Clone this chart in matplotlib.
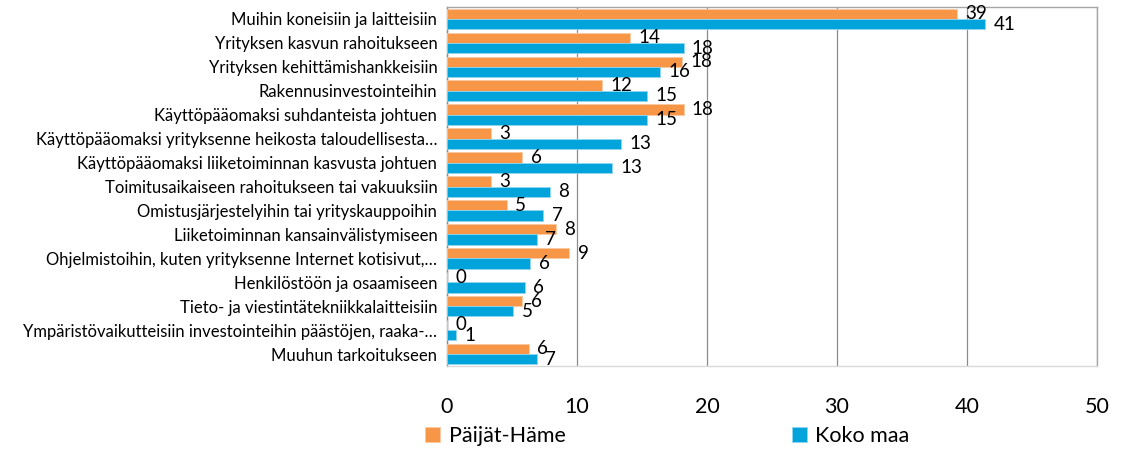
import matplotlib
matplotlib.use('Agg')
import matplotlib.pyplot as plt
import numpy as np

# data
categories = [
    'Muihin koneisiin ja laitteisiin',
    'Yrityksen kasvun rahoitukseen',
    'Yrityksen kehittämishankkeisiin',
    'Rakennusinvestointeihin',
    'Käyttöpääomaksi suhdanteista johtuen',
    'Käyttöpääomaksi yrityksenne heikosta taloudellisesta…',
    'Käyttöpääomaksi liiketoiminnan kasvusta johtuen',
    'Toimitusaikaiseen rahoitukseen tai vakuuksiin',
    'Omistusjärjestelyihin tai yrityskauppoihin',
    'Liiketoiminnan kansainvälistymiseen',
    'Ohjelmistoihin, kuten yrityksenne Internet kotisivut,…',
    'Henkilöstöön ja osaamiseen',
    'Tieto- ja viestintätekniikkalaitteisiin',
    'Ympäristövaikutteisiin investointeihin päästöjen, raaka-…',
    'Muuhun tarkoitukseen',
]
paijat_hame = [39.2, 14.1, 18.1, 11.9, 18.2, 3.4, 5.8, 3.4, 4.6, 8.4, 9.4, 0.0, 5.8, 0.0, 6.3]
koko_maa = [41.4, 18.2, 16.4, 15.4, 15.4, 13.4, 12.7, 7.9, 7.4, 6.9, 6.4, 6.0, 5.1, 0.7, 6.9]
series_names = ['Päijät-Häme', 'Koko maa']
x_ticks = [0, 10, 20, 30, 40, 50]

plt.rcParams['font.family'] = ['Lato', 'DejaVu Sans']

orange = '#F79646'
blue = '#00A3DA'

fig = plt.figure(figsize=(11.27, 4.5), dpi=100)
ax = fig.add_axes([447 / 1127, 1 - 366 / 450, 650 / 1127, 359 / 450])

y = np.arange(len(categories))
h = 0.43
b1 = ax.barh(y - h / 2, paijat_hame, height=h, color=orange, edgecolor='#fbc9a3',
             linewidth=0.6, label=series_names[0], zorder=3)
b2 = ax.barh(y + h / 2, koko_maa, height=h, color=blue, edgecolor='#8fd6ef',
             linewidth=0.6, label=series_names[1], zorder=3)

for bars, vals in ((b1, paijat_hame), (b2, koko_maa)):
    for bar, v in zip(bars, vals):
        ax.annotate(f'{v:.0f}', (v, bar.get_y() + bar.get_height() / 2),
                    xytext=(6, 0), textcoords='offset points',
                    ha='left', va='center', fontsize=13.5, color='black', zorder=4)

ax.set_xlim(0, 50)
ax.set_ylim(len(categories) - 0.5, -0.5)
ax.set_xticks(x_ticks)
ax.set_xticklabels([str(t) for t in x_ticks], fontsize=15.5)
ax.set_yticks(y)
ax.set_yticklabels(categories, fontsize=12)
ax.tick_params(axis='x', length=0, pad=22)
ax.tick_params(axis='y', length=0, pad=7)

ax.grid(axis='x', color='#8c8c8c', linewidth=0.9, zorder=0)
ax.spines['left'].set_color('#868686')
ax.spines['top'].set_color('#a6a6a6')
ax.spines['right'].set_color('#a6a6a6')
ax.spines['bottom'].set_color('#d9d9d9')
for s in ax.spines.values():
    s.set_linewidth(1.0)

fig.legend(handles=[b1, b2], labels=series_names, loc='center',
           bbox_to_anchor=(0.592, 0.031), ncol=2, frameon=False,
           fontsize=15.5, handlelength=0.7, handleheight=0.7,
           handletextpad=0.4, columnspacing=10.5, borderpad=0)

fig.savefig('out.png', dpi=100)
